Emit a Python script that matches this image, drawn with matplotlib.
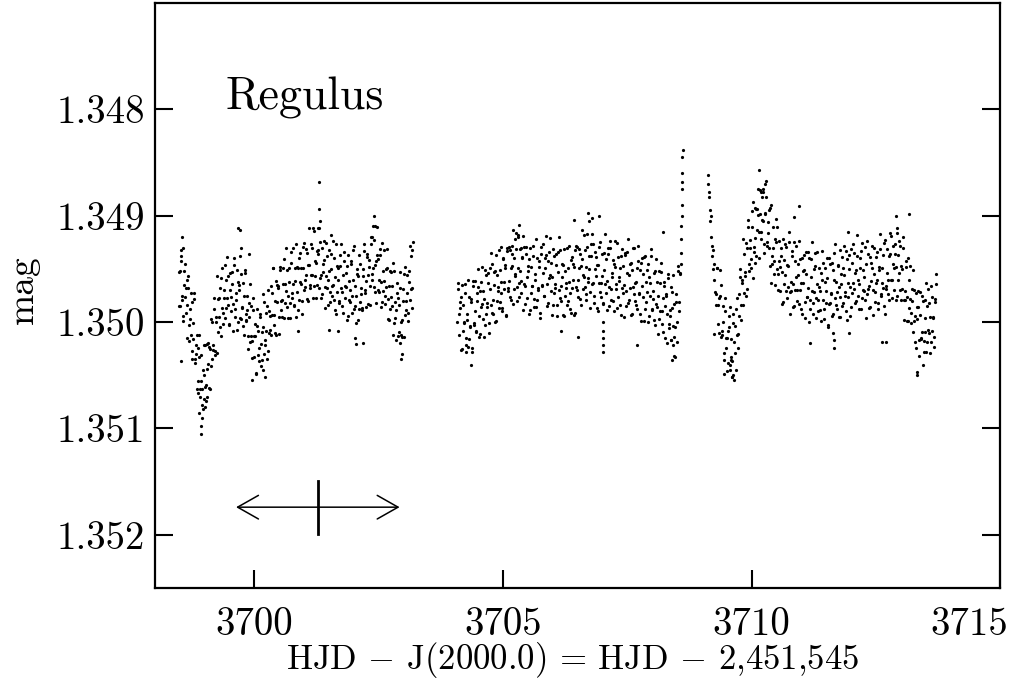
#!/usr/bin/env python3
"""Regulus light curve: differential magnitude against heliocentric Julian date."""

import numpy as np
import matplotlib
matplotlib.use("Agg")
import matplotlib.pyplot as plt
from matplotlib.patches import FancyArrowPatch, ArrowStyle
from matplotlib.ticker import FormatStrFormatter
import matplotlib.transforms as mtransforms

plt.rcParams["font.family"] = "cmr10"
plt.rcParams["mathtext.fontset"] = "cm"
plt.rcParams["axes.formatter.use_mathtext"] = True

# (HJD - 2451545, mag), first observing block
seg1 = [
    (3698.48, 1.34953), (3698.50, 1.34985), (3698.52, 1.34943), (3698.54, 1.34975), (3698.56, 1.34994),
    (3698.58, 1.34965), (3698.60, 1.34945), (3698.62, 1.34991), (3698.64, 1.34984), (3698.66, 1.34968),
    (3698.68, 1.35018), (3698.70, 1.34988), (3698.72, 1.35012), (3698.74, 1.34981), (3698.76, 1.35016),
    (3698.78, 1.34978), (3698.80, 1.35038), (3698.82, 1.35022), (3698.84, 1.35063), (3698.86, 1.35024),
    (3698.88, 1.35033), (3698.90, 1.35070), (3698.92, 1.35031), (3698.94, 1.35063), (3698.96, 1.35082),
    (3698.98, 1.35050), (3699.00, 1.35022), (3699.02, 1.35059), (3699.04, 1.35044), (3699.06, 1.35020),
    (3699.08, 1.35062), (3699.10, 1.35025), (3699.12, 1.35041), (3699.14, 1.35000), (3699.16, 1.35026),
    (3699.18, 1.34977), (3699.20, 1.35027), (3699.22, 1.35000), (3699.24, 1.35029), (3699.26, 1.34978),
    (3699.28, 1.34977), (3699.30, 1.35005), (3699.32, 1.34959), (3699.34, 1.34987), (3699.36, 1.35002),
    (3699.38, 1.34970), (3699.40, 1.34946), (3699.42, 1.34987), (3699.44, 1.34977), (3699.46, 1.34957),
    (3699.48, 1.35003), (3699.50, 1.34970), (3699.52, 1.34990), (3699.54, 1.34953), (3699.56, 1.34983),
    (3699.58, 1.34940), (3699.60, 1.34995), (3699.62, 1.34973), (3699.64, 1.35007), (3699.66, 1.34962),
    (3699.68, 1.34965), (3699.70, 1.34996), (3699.72, 1.34955), (3699.74, 1.34986), (3699.76, 1.35004),
    (3699.78, 1.34975), (3699.80, 1.34954), (3699.82, 1.34999), (3699.84, 1.34992), (3699.86, 1.34975),
    (3699.88, 1.35025), (3699.90, 1.34995), (3699.92, 1.35019), (3699.94, 1.34985), (3699.96, 1.35018),
    (3699.98, 1.34977), (3700.00, 1.35033), (3700.02, 1.35013), (3700.04, 1.35049), (3700.06, 1.35004),
    (3700.08, 1.35008), (3700.10, 1.35037), (3700.12, 1.34992), (3700.14, 1.35021), (3700.16, 1.35036),
    (3700.18, 1.35005), (3700.20, 1.34981), (3700.22, 1.35022), (3700.24, 1.35008), (3700.26, 1.34985),
    (3700.28, 1.35027), (3700.30, 1.34990), (3700.32, 1.35007), (3700.34, 1.34966), (3700.36, 1.34993),
    (3700.38, 1.34949), (3700.40, 1.35003), (3700.42, 1.34980), (3700.44, 1.35012), (3700.46, 1.34965),
    (3700.48, 1.34966), (3700.50, 1.34995), (3700.52, 1.34951), (3700.54, 1.34980), (3700.56, 1.34995),
    (3700.58, 1.34964), (3700.60, 1.34941), (3700.62, 1.34982), (3700.64, 1.34971), (3700.66, 1.34951),
    (3700.68, 1.34996), (3700.70, 1.34962), (3700.72, 1.34982), (3700.74, 1.34944), (3700.76, 1.34973),
    (3700.78, 1.34930), (3700.80, 1.34984), (3700.82, 1.34961), (3700.84, 1.34995), (3700.86, 1.34948),
    (3700.88, 1.34949), (3700.90, 1.34979), (3700.92, 1.34935), (3700.94, 1.34964), (3700.96, 1.34980),
    (3700.98, 1.34949), (3701.00, 1.34926), (3701.02, 1.34967), (3701.04, 1.34956), (3701.06, 1.34935),
    (3701.08, 1.34980), (3701.10, 1.34946), (3701.12, 1.34965), (3701.14, 1.34927), (3701.16, 1.34956),
    (3701.18, 1.34912), (3701.20, 1.34966), (3701.22, 1.34943), (3701.24, 1.34977), (3701.26, 1.34933),
    (3701.28, 1.34936), (3701.30, 1.34968), (3701.32, 1.34925), (3701.34, 1.34956), (3701.36, 1.34974),
    (3701.38, 1.34945), (3701.40, 1.34924), (3701.42, 1.34967), (3701.44, 1.34957), (3701.46, 1.34938),
    (3701.48, 1.34984), (3701.50, 1.34952), (3701.52, 1.34972), (3701.54, 1.34936), (3701.56, 1.34966),
    (3701.58, 1.34924), (3701.60, 1.34979), (3701.62, 1.34958), (3701.64, 1.34992), (3701.66, 1.34947),
    (3701.68, 1.34949), (3701.70, 1.34980), (3701.72, 1.34937), (3701.74, 1.34968), (3701.76, 1.34985),
    (3701.78, 1.34956), (3701.80, 1.34934), (3701.82, 1.34977), (3701.84, 1.34967), (3701.86, 1.34947),
    (3701.88, 1.34994), (3701.90, 1.34961), (3701.92, 1.34981), (3701.94, 1.34945), (3701.96, 1.34975),
    (3701.98, 1.34932), (3702.00, 1.34988), (3702.02, 1.34966), (3702.04, 1.35001), (3702.06, 1.34955),
    (3702.08, 1.34957), (3702.10, 1.34988), (3702.12, 1.34945), (3702.14, 1.34974), (3702.16, 1.34989),
    (3702.18, 1.34957), (3702.20, 1.34933), (3702.22, 1.34973), (3702.24, 1.34961), (3702.26, 1.34939),
    (3702.28, 1.34983), (3702.30, 1.34948), (3702.32, 1.34966), (3702.34, 1.34927), (3702.36, 1.34955),
    (3702.38, 1.34910), (3702.40, 1.34967), (3702.42, 1.34946), (3702.44, 1.34982), (3702.46, 1.34937),
    (3702.48, 1.34941), (3702.50, 1.34972), (3702.52, 1.34931), (3702.54, 1.34962), (3702.56, 1.34981),
    (3702.58, 1.34952), (3702.60, 1.34932), (3702.62, 1.34975), (3702.64, 1.34967), (3702.66, 1.34949),
    (3702.68, 1.34997), (3702.70, 1.34966), (3702.72, 1.34988), (3702.74, 1.34953), (3702.76, 1.34985),
    (3702.78, 1.34944), (3702.80, 1.35001), (3702.82, 1.34981), (3702.84, 1.35017), (3702.86, 1.34973),
    (3702.88, 1.34977), (3702.90, 1.35009), (3702.92, 1.34968), (3702.94, 1.35000), (3702.96, 1.35014),
    (3702.98, 1.34980), (3703.00, 1.34955), (3703.02, 1.34993), (3703.04, 1.34980), (3703.06, 1.34956),
    (3703.08, 1.34999), (3703.10, 1.34962), (3703.12, 1.34979), (3703.14, 1.34938), (3703.16, 1.34968),
    (3703.18, 1.34925),
    # scattered outliers in the same block
    (3698.52, 1.35037), (3698.55, 1.34920), (3698.57, 1.34930), (3698.53, 1.34938), (3698.65, 1.34960),
    (3698.75, 1.35035), (3698.92, 1.35105), (3698.93, 1.35098), (3698.88, 1.35085), (3698.95, 1.35090),
    (3699.00, 1.35080), (3698.86, 1.35055), (3698.98, 1.35072), (3699.04, 1.35070), (3699.67, 1.34912),
    (3699.71, 1.34913), (3699.73, 1.34930), (3699.90, 1.34936), (3699.96, 1.35054), (3700.22, 1.35052),
    (3700.18, 1.35045), (3701.29, 1.34868), (3701.30, 1.34894), (3701.31, 1.34905), (3701.27, 1.34912),
    (3702.40, 1.34900), (3702.43, 1.34910), (3702.37, 1.34920), (3702.05, 1.35021), (3702.02, 1.35015),
    (3702.94, 1.35035), (3702.96, 1.35030), (3702.92, 1.35020), (3703.16, 1.34932), (3700.88, 1.35008),
    (3701.49, 1.35007), (3701.69, 1.35008), (3702.19, 1.35020),
]

# the in-between exposures of the first block
seg1_b = [
    (3698.49, 1.34985), (3698.51, 1.34952), (3698.53, 1.34932), (3698.55, 1.34979), (3698.57, 1.34999),
    (3698.59, 1.34952), (3698.61, 1.34976), (3698.63, 1.34968), (3698.65, 1.35015), (3698.67, 1.34957),
    (3698.69, 1.35003), (3698.71, 1.34997), (3698.73, 1.34973), (3698.75, 1.35027), (3698.77, 1.35001),
    (3698.79, 1.34973), (3698.81, 1.35035), (3698.83, 1.35030), (3698.85, 1.35012), (3698.87, 1.35067),
    (3698.89, 1.35012), (3698.91, 1.35063), (3698.93, 1.35055), (3698.95, 1.35078), (3698.97, 1.35045),
    (3698.99, 1.35022), (3699.01, 1.35061), (3699.03, 1.35074), (3699.05, 1.35021), (3699.07, 1.35039),
    (3699.09, 1.35023), (3699.11, 1.35063), (3699.13, 1.34997), (3699.15, 1.35035), (3699.17, 1.35022),
    (3699.19, 1.34988), (3699.21, 1.35031), (3699.23, 1.34995), (3699.25, 1.34957), (3699.27, 1.35009),
    (3699.29, 1.34995), (3699.31, 1.34968), (3699.33, 1.35013), (3699.35, 1.34949), (3699.37, 1.34991),
    (3699.39, 1.34977), (3699.41, 1.34996), (3699.43, 1.34960), (3699.45, 1.34939), (3699.47, 1.34984),
    (3699.49, 1.35002), (3699.51, 1.34954), (3699.53, 1.34976), (3699.55, 1.34964), (3699.57, 1.35008),
    (3699.59, 1.34946), (3699.61, 1.34988), (3699.63, 1.34979), (3699.65, 1.34951), (3699.67, 1.35000),
    (3699.69, 1.34970), (3699.71, 1.34938), (3699.73, 1.34997), (3699.75, 1.34987), (3699.77, 1.34963),
    (3699.79, 1.35012), (3699.81, 1.34951), (3699.83, 1.34998), (3699.85, 1.34989), (3699.87, 1.35013),
    (3699.89, 1.34982), (3699.91, 1.34964), (3699.93, 1.35013), (3699.95, 1.35034), (3699.97, 1.34989),
    (3699.99, 1.35013), (3700.01, 1.35002), (3700.03, 1.35048), (3700.05, 1.34988), (3700.07, 1.35031),
    (3700.09, 1.35024), (3700.11, 1.34995), (3700.13, 1.35041), (3700.15, 1.35009), (3700.17, 1.34974),
    (3700.19, 1.35030), (3700.21, 1.35017), (3700.23, 1.34991), (3700.25, 1.35035), (3700.27, 1.34970),
    (3700.29, 1.35010), (3700.31, 1.34994), (3700.33, 1.35012), (3700.35, 1.34973), (3700.37, 1.34949),
    (3700.39, 1.34993), (3700.41, 1.35010), (3700.43, 1.34961), (3700.45, 1.34981), (3700.47, 1.34968),
    (3700.49, 1.35011), (3700.51, 1.34948), (3700.53, 1.34989), (3700.55, 1.34979), (3700.57, 1.34949),
    (3700.59, 1.34996), (3700.61, 1.34964), (3700.63, 1.34930), (3700.65, 1.34986), (3700.67, 1.34975),
    (3700.69, 1.34949), (3700.71, 1.34996), (3700.73, 1.34934), (3700.75, 1.34977), (3700.77, 1.34964),
    (3700.79, 1.34985), (3700.81, 1.34949), (3700.83, 1.34927), (3700.85, 1.34972), (3700.87, 1.34989),
    (3700.89, 1.34940), (3700.91, 1.34962), (3700.93, 1.34949), (3700.95, 1.34992), (3700.97, 1.34929),
    (3700.99, 1.34970), (3701.01, 1.34960), (3701.03, 1.34931), (3701.05, 1.34978), (3701.07, 1.34946),
    (3701.09, 1.34912), (3701.11, 1.34968), (3701.13, 1.34956), (3701.15, 1.34930), (3701.17, 1.34977),
    (3701.19, 1.34914), (3701.21, 1.34957), (3701.23, 1.34944), (3701.25, 1.34965), (3701.27, 1.34932),
    (3701.29, 1.34912), (3701.31, 1.34959), (3701.33, 1.34977), (3701.35, 1.34930), (3701.37, 1.34953),
    (3701.39, 1.34942), (3701.41, 1.34987), (3701.43, 1.34926), (3701.45, 1.34968), (3701.47, 1.34960),
    (3701.49, 1.34932), (3701.51, 1.34981), (3701.53, 1.34950), (3701.55, 1.34918), (3701.57, 1.34975),
    (3701.59, 1.34965), (3701.61, 1.34940), (3701.63, 1.34989), (3701.65, 1.34927), (3701.67, 1.34972),
    (3701.69, 1.34960), (3701.71, 1.34982), (3701.73, 1.34947), (3701.75, 1.34927), (3701.77, 1.34972),
    (3701.79, 1.34991), (3701.81, 1.34943), (3701.83, 1.34966), (3701.85, 1.34954), (3701.87, 1.34998),
    (3701.89, 1.34937), (3701.91, 1.34979), (3701.93, 1.34970), (3701.95, 1.34943), (3701.97, 1.34991),
    (3701.99, 1.34960), (3702.01, 1.34928), (3702.03, 1.34985), (3702.05, 1.34975), (3702.07, 1.34950),
    (3702.09, 1.34998), (3702.11, 1.34937), (3702.13, 1.34981), (3702.15, 1.34968), (3702.17, 1.34987),
    (3702.19, 1.34950), (3702.21, 1.34927), (3702.23, 1.34970), (3702.25, 1.34986), (3702.27, 1.34936),
    (3702.29, 1.34956), (3702.31, 1.34942), (3702.33, 1.34984), (3702.35, 1.34920), (3702.37, 1.34960),
    (3702.39, 1.34949), (3702.41, 1.34923), (3702.43, 1.34972), (3702.45, 1.34943), (3702.47, 1.34911),
    (3702.49, 1.34970), (3702.51, 1.34960), (3702.53, 1.34937), (3702.55, 1.34986), (3702.57, 1.34926),
    (3702.59, 1.34971), (3702.61, 1.34961), (3702.63, 1.34983), (3702.65, 1.34950), (3702.67, 1.34931),
    (3702.69, 1.34978), (3702.71, 1.34998), (3702.73, 1.34952), (3702.75, 1.34976), (3702.77, 1.34966),
    (3702.79, 1.35012), (3702.81, 1.34952), (3702.83, 1.34996), (3702.85, 1.34989), (3702.87, 1.34963),
    (3702.89, 1.35013), (3702.91, 1.34984), (3702.93, 1.34953), (3702.95, 1.35012), (3702.97, 1.34998),
    (3702.99, 1.34969), (3703.01, 1.35014), (3703.03, 1.34948), (3703.05, 1.34989), (3703.07, 1.34973),
    (3703.09, 1.34991), (3703.11, 1.34952), (3703.13, 1.34928), (3703.15, 1.34969), (3703.17, 1.34987),
]

# second observing block, ending in the brief brightening near 3708.6
seg2 = [
    (3704.08, 1.35000), (3704.10, 1.34963), (3704.12, 1.35012), (3704.14, 1.34987), (3704.16, 1.34976),
    (3704.18, 1.35025), (3704.20, 1.34984), (3704.22, 1.35001), (3704.24, 1.34964), (3704.26, 1.35015),
    (3704.28, 1.34998), (3704.30, 1.35023), (3704.32, 1.34976), (3704.34, 1.35005), (3704.36, 1.34981),
    (3704.38, 1.35028), (3704.40, 1.34966), (3704.42, 1.35001), (3704.44, 1.34961), (3704.46, 1.35008),
    (3704.48, 1.34980), (3704.50, 1.34967), (3704.52, 1.35014), (3704.54, 1.34971), (3704.56, 1.34986),
    (3704.58, 1.34948), (3704.60, 1.34997), (3704.62, 1.34978), (3704.64, 1.35003), (3704.66, 1.34956),
    (3704.68, 1.34986), (3704.70, 1.34963), (3704.72, 1.35010), (3704.74, 1.34949), (3704.76, 1.34984),
    (3704.78, 1.34945), (3704.80, 1.34992), (3704.82, 1.34965), (3704.84, 1.34952), (3704.86, 1.34999),
    (3704.88, 1.34956), (3704.90, 1.34971), (3704.92, 1.34932), (3704.94, 1.34981), (3704.96, 1.34962),
    (3704.98, 1.34987), (3705.00, 1.34940), (3705.02, 1.34969), (3705.04, 1.34946), (3705.06, 1.34994),
    (3705.08, 1.34933), (3705.10, 1.34968), (3705.12, 1.34929), (3705.14, 1.34976), (3705.16, 1.34949),
    (3705.18, 1.34936), (3705.20, 1.34983), (3705.22, 1.34940), (3705.24, 1.34955), (3705.26, 1.34916),
    (3705.28, 1.34967), (3705.30, 1.34949), (3705.32, 1.34976), (3705.34, 1.34931), (3705.36, 1.34961),
    (3705.38, 1.34940), (3705.40, 1.34989), (3705.42, 1.34929), (3705.44, 1.34966), (3705.46, 1.34929),
    (3705.48, 1.34977), (3705.50, 1.34952), (3705.52, 1.34941), (3705.54, 1.34989), (3705.56, 1.34948),
    (3705.58, 1.34966), (3705.60, 1.34928), (3705.62, 1.34978), (3705.64, 1.34960), (3705.66, 1.34986),
    (3705.68, 1.34940), (3705.70, 1.34970), (3705.72, 1.34948), (3705.74, 1.34996), (3705.76, 1.34936),
    (3705.78, 1.34965), (3705.80, 1.34927), (3705.82, 1.34975), (3705.84, 1.34949), (3705.86, 1.34937),
    (3705.88, 1.34985), (3705.90, 1.34943), (3705.92, 1.34959), (3705.94, 1.34921), (3705.96, 1.34971),
    (3705.98, 1.34958), (3706.00, 1.34984), (3706.02, 1.34938), (3706.04, 1.34968), (3706.06, 1.34946),
    (3706.08, 1.34994), (3706.10, 1.34934), (3706.12, 1.34970), (3706.14, 1.34932), (3706.16, 1.34980),
    (3706.18, 1.34958), (3706.20, 1.34946), (3706.22, 1.34994), (3706.24, 1.34952), (3706.26, 1.34968),
    (3706.28, 1.34930), (3706.30, 1.34980), (3706.32, 1.34962), (3706.34, 1.34988), (3706.36, 1.34942),
    (3706.38, 1.34968), (3706.40, 1.34945), (3706.42, 1.34993), (3706.44, 1.34932), (3706.46, 1.34967),
    (3706.48, 1.34929), (3706.50, 1.34976), (3706.52, 1.34949), (3706.54, 1.34936), (3706.56, 1.34984),
    (3706.58, 1.34941), (3706.60, 1.34956), (3706.62, 1.34918), (3706.64, 1.34967), (3706.66, 1.34948),
    (3706.68, 1.34974), (3706.70, 1.34929), (3706.72, 1.34959), (3706.74, 1.34938), (3706.76, 1.34987),
    (3706.78, 1.34927), (3706.80, 1.34964), (3706.82, 1.34927), (3706.84, 1.34975), (3706.86, 1.34950),
    (3706.88, 1.34939), (3706.90, 1.34987), (3706.92, 1.34946), (3706.94, 1.34963), (3706.96, 1.34925),
    (3706.98, 1.34976), (3707.00, 1.34957), (3707.02, 1.34982), (3707.04, 1.34935), (3707.06, 1.34964),
    (3707.08, 1.34941), (3707.10, 1.34989), (3707.12, 1.34930), (3707.14, 1.34967), (3707.16, 1.34930),
    (3707.18, 1.34979), (3707.20, 1.34954), (3707.22, 1.34942), (3707.24, 1.34990), (3707.26, 1.34948),
    (3707.28, 1.34964), (3707.30, 1.34926), (3707.32, 1.34976), (3707.34, 1.34958), (3707.36, 1.34984),
    (3707.38, 1.34938), (3707.40, 1.34968), (3707.42, 1.34947), (3707.44, 1.34995), (3707.46, 1.34935),
    (3707.48, 1.34971), (3707.50, 1.34934), (3707.52, 1.34982), (3707.54, 1.34956), (3707.56, 1.34945),
    (3707.58, 1.34993), (3707.60, 1.34951), (3707.62, 1.34967), (3707.64, 1.34930), (3707.66, 1.34980),
    (3707.68, 1.34962), (3707.70, 1.34988), (3707.72, 1.34943), (3707.74, 1.34973), (3707.76, 1.34951),
    (3707.78, 1.34999), (3707.80, 1.34940), (3707.82, 1.34976), (3707.84, 1.34939), (3707.86, 1.34988),
    (3707.88, 1.34962), (3707.90, 1.34951), (3707.92, 1.35000), (3707.94, 1.34958), (3707.96, 1.34975),
    (3707.98, 1.34938), (3708.00, 1.34988), (3708.02, 1.34971), (3708.04, 1.34998), (3708.06, 1.34952),
    (3708.08, 1.34983), (3708.10, 1.34962), (3708.12, 1.35011), (3708.14, 1.34952), (3708.16, 1.34990),
    (3708.18, 1.34953), (3708.20, 1.35002), (3708.22, 1.34977), (3708.24, 1.34966), (3708.26, 1.35015),
    (3708.28, 1.34975), (3708.30, 1.34992), (3708.32, 1.34955), (3708.34, 1.35006), (3708.36, 1.34989),
    (3708.38, 1.35017), (3708.40, 1.34972), (3708.42, 1.35004), (3708.44, 1.34983), (3708.46, 1.35033),
    (3708.48, 1.34974), (3708.50, 1.35000), (3708.52, 1.34952), (3708.54, 1.34990), (3708.56, 1.34954),
    # outliers
    (3704.35, 1.35040), (3704.25, 1.35028), (3705.32, 1.34909), (3705.30, 1.34920), (3705.25, 1.34922),
    (3706.71, 1.34897), (3706.73, 1.34905), (3706.80, 1.34902), (3706.93, 1.34900), (3706.43, 1.34904),
    (3707.01, 1.35000), (3707.01, 1.35008), (3707.01, 1.35015), (3707.02, 1.35022), (3707.02, 1.35028),
    (3706.51, 1.35014), (3706.17, 1.35008), (3707.70, 1.35022), (3708.42, 1.35022), (3708.45, 1.35032),
    (3708.40, 1.35036), (3708.22, 1.34915), (3705.18, 1.34928), (3705.36, 1.34930),
    # the spike
    (3708.57, 1.34955), (3708.58, 1.34945), (3708.58, 1.34935), (3708.59, 1.34922), (3708.59, 1.34910),
    (3708.60, 1.34900), (3708.60, 1.34890), (3708.60, 1.34875), (3708.61, 1.34868), (3708.61, 1.34860),
    (3708.61, 1.34845), (3708.62, 1.34838),
]

seg2_b = [
    (3704.09, 1.34969), (3704.11, 1.34992), (3704.13, 1.34981), (3704.15, 1.35026), (3704.17, 1.34965),
    (3704.19, 1.35008), (3704.21, 1.35000), (3704.23, 1.34973), (3704.25, 1.35022), (3704.27, 1.34992),
    (3704.29, 1.34960), (3704.31, 1.35016), (3704.33, 1.35004), (3704.35, 1.34978), (3704.37, 1.35024),
    (3704.39, 1.34961), (3704.41, 1.35003), (3704.43, 1.34990), (3704.45, 1.35009), (3704.47, 1.34973),
    (3704.49, 1.34950), (3704.51, 1.34994), (3704.53, 1.35011), (3704.55, 1.34962), (3704.57, 1.34983),
    (3704.59, 1.34971), (3704.61, 1.35014), (3704.63, 1.34951), (3704.65, 1.34992), (3704.67, 1.34982),
    (3704.69, 1.34954), (3704.71, 1.35001), (3704.73, 1.34969), (3704.75, 1.34935), (3704.77, 1.34991),
    (3704.79, 1.34979), (3704.81, 1.34953), (3704.83, 1.35000), (3704.85, 1.34937), (3704.87, 1.34980),
    (3704.89, 1.34967), (3704.91, 1.34987), (3704.93, 1.34951), (3704.95, 1.34929), (3704.97, 1.34973),
    (3704.99, 1.34990), (3705.01, 1.34941), (3705.03, 1.34962), (3705.05, 1.34949), (3705.07, 1.34993),
    (3705.09, 1.34930), (3705.11, 1.34971), (3705.13, 1.34961), (3705.15, 1.34932), (3705.17, 1.34979),
    (3705.19, 1.34947), (3705.21, 1.34913), (3705.23, 1.34969), (3705.25, 1.34957), (3705.27, 1.34931),
    (3705.29, 1.34980), (3705.31, 1.34918), (3705.33, 1.34963), (3705.35, 1.34952), (3705.37, 1.34973),
    (3705.39, 1.34939), (3705.41, 1.34919), (3705.43, 1.34964), (3705.45, 1.34983), (3705.47, 1.34936),
    (3705.49, 1.34958), (3705.51, 1.34947), (3705.53, 1.34992), (3705.55, 1.34930), (3705.57, 1.34973),
    (3705.59, 1.34966), (3705.61, 1.34938), (3705.63, 1.34986), (3705.65, 1.34955), (3705.67, 1.34922),
    (3705.69, 1.34979), (3705.71, 1.34968), (3705.73, 1.34943), (3705.75, 1.34991), (3705.77, 1.34929),
    (3705.79, 1.34966), (3705.81, 1.34954), (3705.83, 1.34975), (3705.85, 1.34940), (3705.87, 1.34919),
    (3705.89, 1.34964), (3705.91, 1.34982), (3705.93, 1.34934), (3705.95, 1.34956), (3705.97, 1.34944),
    (3705.99, 1.34993), (3706.01, 1.34931), (3706.03, 1.34973), (3706.05, 1.34964), (3706.07, 1.34936),
    (3706.09, 1.34984), (3706.11, 1.34953), (3706.13, 1.34920), (3706.15, 1.34977), (3706.17, 1.34966),
    (3706.19, 1.34945), (3706.21, 1.34993), (3706.23, 1.34931), (3706.25, 1.34975), (3706.27, 1.34963),
    (3706.29, 1.34984), (3706.31, 1.34949), (3706.33, 1.34928), (3706.35, 1.34973), (3706.37, 1.34991),
    (3706.39, 1.34939), (3706.41, 1.34960), (3706.43, 1.34948), (3706.45, 1.34991), (3706.47, 1.34928),
    (3706.49, 1.34970), (3706.51, 1.34960), (3706.53, 1.34931), (3706.55, 1.34978), (3706.57, 1.34947),
    (3706.59, 1.34913), (3706.61, 1.34969), (3706.63, 1.34958), (3706.65, 1.34932), (3706.67, 1.34979),
    (3706.69, 1.34917), (3706.71, 1.34962), (3706.73, 1.34950), (3706.75, 1.34972), (3706.77, 1.34938),
    (3706.79, 1.34917), (3706.81, 1.34963), (3706.83, 1.34982), (3706.85, 1.34934), (3706.87, 1.34957),
    (3706.89, 1.34946), (3706.91, 1.34990), (3706.93, 1.34929), (3706.95, 1.34972), (3706.97, 1.34963),
    (3706.99, 1.34936), (3707.01, 1.34983), (3707.03, 1.34951), (3707.05, 1.34917), (3707.07, 1.34973),
    (3707.09, 1.34961), (3707.11, 1.34936), (3707.13, 1.34985), (3707.15, 1.34924), (3707.17, 1.34969),
    (3707.19, 1.34958), (3707.21, 1.34980), (3707.23, 1.34945), (3707.25, 1.34924), (3707.27, 1.34969),
    (3707.29, 1.34987), (3707.31, 1.34939), (3707.33, 1.34961), (3707.35, 1.34949), (3707.37, 1.34993),
    (3707.39, 1.34931), (3707.41, 1.34973), (3707.43, 1.34965), (3707.45, 1.34937), (3707.47, 1.34985),
    (3707.49, 1.34954), (3707.51, 1.34922), (3707.53, 1.34979), (3707.55, 1.34968), (3707.57, 1.34944),
    (3707.59, 1.34992), (3707.61, 1.34930), (3707.63, 1.34974), (3707.65, 1.34963), (3707.67, 1.34984),
    (3707.69, 1.34949), (3707.71, 1.34928), (3707.73, 1.34974), (3707.75, 1.34992), (3707.77, 1.34944),
    (3707.79, 1.34966), (3707.81, 1.34955), (3707.83, 1.34999), (3707.85, 1.34938), (3707.87, 1.34981),
    (3707.89, 1.34972), (3707.91, 1.34945), (3707.93, 1.34994), (3707.95, 1.34963), (3707.97, 1.34931),
    (3707.99, 1.34989), (3708.01, 1.34978), (3708.03, 1.34954), (3708.05, 1.35003), (3708.07, 1.34941),
    (3708.09, 1.34986), (3708.11, 1.34975), (3708.13, 1.34997), (3708.15, 1.34963), (3708.17, 1.34944),
    (3708.19, 1.34990), (3708.21, 1.35009), (3708.23, 1.34962), (3708.25, 1.34985), (3708.27, 1.34974),
    (3708.29, 1.35020), (3708.31, 1.34959), (3708.33, 1.35002), (3708.35, 1.34994), (3708.37, 1.34967),
    (3708.39, 1.35017), (3708.41, 1.34987), (3708.43, 1.34956), (3708.45, 1.35014), (3708.47, 1.35005),
    (3708.49, 1.34981), (3708.51, 1.35019), (3708.53, 1.34947), (3708.55, 1.34981),
]

# third observing block
seg3 = [
    (3709.12, 1.34870), (3709.13, 1.34862), (3709.14, 1.34882), (3709.15, 1.34878), (3709.16, 1.34895),
    (3709.17, 1.34905), (3709.18, 1.34900), (3709.19, 1.34920), (3709.20, 1.34928), (3709.21, 1.34938),
    (3709.22, 1.34932), (3709.23, 1.34950), (3709.24, 1.34960), (3709.25, 1.34945), (3709.26, 1.34972),
    (3709.28, 1.34984), (3709.30, 1.34949), (3709.32, 1.34984), (3709.34, 1.35010), (3709.36, 1.34975),
    (3709.38, 1.34965), (3709.40, 1.35012), (3709.42, 1.35000), (3709.44, 1.35029), (3709.46, 1.34990),
    (3709.48, 1.35015), (3709.50, 1.35046), (3709.52, 1.35008), (3709.54, 1.34994), (3709.56, 1.35040),
    (3709.58, 1.35016), (3709.60, 1.35037), (3709.62, 1.34992), (3709.64, 1.35054), (3709.66, 1.35029),
    (3709.68, 1.34988), (3709.70, 1.35012), (3709.72, 1.35024), (3709.74, 1.34974), (3709.76, 1.34950),
    (3709.78, 1.34984), (3709.80, 1.34963), (3709.82, 1.34984), (3709.84, 1.34936), (3709.86, 1.34953),
    (3709.88, 1.34975), (3709.90, 1.34930), (3709.92, 1.34911), (3709.94, 1.34952), (3709.96, 1.34923),
    (3709.98, 1.34941), (3710.00, 1.34896), (3710.02, 1.34959), (3710.04, 1.34934), (3710.06, 1.34893),
    (3710.08, 1.34921), (3710.10, 1.34938), (3710.12, 1.34894), (3710.14, 1.34875), (3710.16, 1.34915),
    (3710.18, 1.34898), (3710.20, 1.34922), (3710.22, 1.34882), (3710.24, 1.34905), (3710.26, 1.34935),
    (3710.28, 1.34897), (3710.30, 1.34882), (3710.32, 1.34928), (3710.34, 1.34906), (3710.36, 1.34930),
    (3710.38, 1.34893), (3710.40, 1.34963), (3710.42, 1.34945), (3710.44, 1.34911), (3710.46, 1.34943),
    (3710.48, 1.34965), (3710.50, 1.34925), (3710.52, 1.34911), (3710.54, 1.34955), (3710.56, 1.34943),
    (3710.58, 1.34971), (3710.60, 1.34930), (3710.62, 1.34953), (3710.64, 1.34981), (3710.66, 1.34942),
    (3710.68, 1.34927), (3710.70, 1.34971), (3710.72, 1.34946), (3710.74, 1.34967), (3710.76, 1.34925),
    (3710.78, 1.34992), (3710.80, 1.34971), (3710.82, 1.34933), (3710.84, 1.34964), (3710.86, 1.34985),
    (3710.88, 1.34943), (3710.90, 1.34928), (3710.92, 1.34970), (3710.94, 1.34956), (3710.96, 1.34983),
    (3710.98, 1.34941), (3711.00, 1.34963), (3711.02, 1.34992), (3711.04, 1.34952), (3711.06, 1.34937),
    (3711.08, 1.34981), (3711.10, 1.34955), (3711.12, 1.34976), (3711.14, 1.34934), (3711.16, 1.35000),
    (3711.18, 1.34979), (3711.20, 1.34941), (3711.22, 1.34971), (3711.24, 1.34992), (3711.26, 1.34950),
    (3711.28, 1.34935), (3711.30, 1.34977), (3711.32, 1.34964), (3711.34, 1.34990), (3711.36, 1.34949),
    (3711.38, 1.34971), (3711.40, 1.34999), (3711.42, 1.34960), (3711.44, 1.34944), (3711.46, 1.34988),
    (3711.48, 1.34962), (3711.50, 1.34982), (3711.52, 1.34940), (3711.54, 1.35005), (3711.56, 1.34983),
    (3711.58, 1.34945), (3711.60, 1.34974), (3711.62, 1.34994), (3711.64, 1.34951), (3711.66, 1.34935),
    (3711.68, 1.34977), (3711.70, 1.34962), (3711.72, 1.34988), (3711.74, 1.34946), (3711.76, 1.34967),
    (3711.78, 1.34995), (3711.80, 1.34955), (3711.82, 1.34939), (3711.84, 1.34982), (3711.86, 1.34956),
    (3711.88, 1.34975), (3711.90, 1.34933), (3711.92, 1.34998), (3711.94, 1.34976), (3711.96, 1.34937),
    (3711.98, 1.34967), (3712.00, 1.34986), (3712.02, 1.34944), (3712.04, 1.34927), (3712.06, 1.34969),
    (3712.08, 1.34954), (3712.10, 1.34980), (3712.12, 1.34938), (3712.14, 1.34960), (3712.16, 1.34988),
    (3712.18, 1.34949), (3712.20, 1.34933), (3712.22, 1.34977), (3712.24, 1.34951), (3712.26, 1.34971),
    (3712.28, 1.34929), (3712.30, 1.34996), (3712.32, 1.34974), (3712.34, 1.34936), (3712.36, 1.34966),
    (3712.38, 1.34986), (3712.40, 1.34944), (3712.42, 1.34928), (3712.44, 1.34970), (3712.46, 1.34955),
    (3712.48, 1.34981), (3712.50, 1.34939), (3712.52, 1.34960), (3712.54, 1.34988), (3712.56, 1.34948),
    (3712.58, 1.34931), (3712.60, 1.34975), (3712.62, 1.34949), (3712.64, 1.34968), (3712.66, 1.34926),
    (3712.68, 1.34992), (3712.70, 1.34969), (3712.72, 1.34931), (3712.74, 1.34960), (3712.76, 1.34979),
    (3712.78, 1.34936), (3712.80, 1.34919), (3712.82, 1.34960), (3712.84, 1.34945), (3712.86, 1.34970),
    (3712.88, 1.34927), (3712.90, 1.34948), (3712.92, 1.34975), (3712.94, 1.34937), (3712.96, 1.34924),
    (3712.98, 1.34970), (3713.00, 1.34947), (3713.02, 1.34969), (3713.04, 1.34930), (3713.06, 1.34998),
    (3713.08, 1.34979), (3713.10, 1.34943), (3713.12, 1.34976), (3713.14, 1.34999), (3713.16, 1.34960),
    (3713.18, 1.34947), (3713.20, 1.34991), (3713.22, 1.34980), (3713.24, 1.35009), (3713.26, 1.34970),
    (3713.28, 1.34994), (3713.30, 1.35024), (3713.32, 1.34986), (3713.34, 1.34971), (3713.36, 1.35017),
    (3713.38, 1.34993), (3713.40, 1.35015), (3713.42, 1.34975), (3713.44, 1.35040), (3713.46, 1.35018),
    (3713.48, 1.34979), (3713.50, 1.35009), (3713.52, 1.35028), (3713.54, 1.34985), (3713.56, 1.34969),
    (3713.58, 1.35010), (3713.60, 1.34995), (3713.62, 1.35019), (3713.64, 1.34976), (3713.66, 1.34996),
    (3713.68, 1.35023), (3713.70, 1.34981), (3713.72, 1.34964),
    # outliers
    (3709.56, 1.35045), (3709.60, 1.35052), (3709.62, 1.35050), (3709.58, 1.35036), (3709.45, 1.35049),
    (3709.25, 1.35011), (3710.16, 1.34857), (3710.20, 1.34878), (3710.24, 1.34875), (3710.28, 1.34870),
    (3710.96, 1.34891), (3710.86, 1.34901), (3711.17, 1.35020), (3711.65, 1.35024), (3711.65, 1.35017),
    (3711.64, 1.35010), (3711.97, 1.35010), (3712.62, 1.35019), (3712.70, 1.35019), (3712.90, 1.34900),
    (3713.16, 1.34898), (3712.92, 1.34912), (3713.32, 1.35047), (3713.33, 1.35050), (3711.95, 1.34915),
]

seg3_b = [
    (3709.29, 1.34974), (3709.31, 1.34949), (3709.33, 1.35002), (3709.35, 1.34977), (3709.37, 1.34951),
    (3709.39, 1.35014), (3709.41, 1.35008), (3709.43, 1.34985), (3709.45, 1.35036), (3709.47, 1.34977),
    (3709.49, 1.35024), (3709.51, 1.35015), (3709.53, 1.35038), (3709.55, 1.35005), (3709.57, 1.34986),
    (3709.59, 1.35033), (3709.61, 1.35052), (3709.63, 1.35001), (3709.65, 1.35019), (3709.67, 1.35004),
    (3709.69, 1.35045), (3709.71, 1.34977), (3709.73, 1.35011), (3709.75, 1.34994), (3709.77, 1.34958),
    (3709.79, 1.34998), (3709.81, 1.34960), (3709.83, 1.34922), (3709.85, 1.34973), (3709.87, 1.34957),
    (3709.89, 1.34926), (3709.91, 1.34969), (3709.93, 1.34904), (3709.95, 1.34945), (3709.97, 1.34930),
    (3709.99, 1.34949), (3710.01, 1.34911), (3710.03, 1.34887), (3710.05, 1.34929), (3710.07, 1.34944),
    (3710.09, 1.34894), (3710.11, 1.34913), (3710.13, 1.34899), (3710.15, 1.34940), (3710.17, 1.34876),
    (3710.19, 1.34915), (3710.21, 1.34904), (3710.23, 1.34878), (3710.25, 1.34927), (3710.27, 1.34898),
    (3710.29, 1.34867), (3710.31, 1.34925), (3710.33, 1.34916), (3710.35, 1.34895), (3710.37, 1.34947),
    (3710.39, 1.34890), (3710.41, 1.34938), (3710.43, 1.34930), (3710.45, 1.34955), (3710.47, 1.34922),
    (3710.49, 1.34903), (3710.51, 1.34950), (3710.53, 1.34970), (3710.55, 1.34924), (3710.57, 1.34948),
    (3710.59, 1.34938), (3710.61, 1.34983), (3710.63, 1.34922), (3710.65, 1.34964), (3710.67, 1.34956),
    (3710.69, 1.34929), (3710.71, 1.34977), (3710.73, 1.34947), (3710.75, 1.34915), (3710.77, 1.34972),
    (3710.79, 1.34962), (3710.81, 1.34938), (3710.83, 1.34986), (3710.85, 1.34925), (3710.87, 1.34970),
    (3710.89, 1.34958), (3710.91, 1.34980), (3710.93, 1.34945), (3710.95, 1.34924), (3710.97, 1.34970),
    (3710.99, 1.34988), (3711.01, 1.34940), (3711.03, 1.34963), (3711.05, 1.34951), (3711.07, 1.34996),
    (3711.09, 1.34934), (3711.11, 1.34976), (3711.13, 1.34968), (3711.15, 1.34940), (3711.17, 1.34988),
    (3711.19, 1.34958), (3711.21, 1.34925), (3711.23, 1.34982), (3711.25, 1.34972), (3711.27, 1.34947),
    (3711.29, 1.34996), (3711.31, 1.34934), (3711.33, 1.34979), (3711.35, 1.34967), (3711.37, 1.34989),
    (3711.39, 1.34954), (3711.41, 1.34933), (3711.43, 1.34979), (3711.45, 1.34997), (3711.47, 1.34949),
    (3711.49, 1.34971), (3711.51, 1.34959), (3711.53, 1.35003), (3711.55, 1.34940), (3711.57, 1.34982),
    (3711.59, 1.34973), (3711.61, 1.34944), (3711.63, 1.34992), (3711.65, 1.34960), (3711.67, 1.34927),
    (3711.69, 1.34984), (3711.71, 1.34972), (3711.73, 1.34947), (3711.75, 1.34995), (3711.77, 1.34932),
    (3711.79, 1.34976), (3711.81, 1.34964), (3711.83, 1.34985), (3711.85, 1.34949), (3711.87, 1.34928),
    (3711.89, 1.34972), (3711.91, 1.34990), (3711.93, 1.34941), (3711.95, 1.34963), (3711.97, 1.34950),
    (3711.99, 1.34994), (3712.01, 1.34931), (3712.03, 1.34973), (3712.05, 1.34963), (3712.07, 1.34935),
    (3712.09, 1.34982), (3712.11, 1.34951), (3712.13, 1.34918), (3712.15, 1.34975), (3712.17, 1.34964),
    (3712.19, 1.34940), (3712.21, 1.34988), (3712.23, 1.34926), (3712.25, 1.34970), (3712.27, 1.34958),
    (3712.29, 1.34979), (3712.31, 1.34945), (3712.33, 1.34924), (3712.35, 1.34969), (3712.37, 1.34987),
    (3712.39, 1.34939), (3712.41, 1.34961), (3712.43, 1.34949), (3712.45, 1.34993), (3712.47, 1.34930),
    (3712.49, 1.34972), (3712.51, 1.34963), (3712.53, 1.34934), (3712.55, 1.34982), (3712.57, 1.34951),
    (3712.59, 1.34917), (3712.61, 1.34974), (3712.63, 1.34963), (3712.65, 1.34937), (3712.67, 1.34985),
    (3712.69, 1.34923), (3712.71, 1.34966), (3712.73, 1.34954), (3712.75, 1.34974), (3712.77, 1.34938),
    (3712.79, 1.34916), (3712.81, 1.34960), (3712.83, 1.34977), (3712.85, 1.34928), (3712.87, 1.34949),
    (3712.89, 1.34936), (3712.91, 1.34979), (3712.93, 1.34916), (3712.95, 1.34960), (3712.97, 1.34954),
    (3712.99, 1.34928), (3713.01, 1.34979), (3713.03, 1.34950), (3713.05, 1.34920), (3713.07, 1.34979),
    (3713.09, 1.34971), (3713.11, 1.34948), (3713.13, 1.34999), (3713.15, 1.34940), (3713.17, 1.34987),
    (3713.19, 1.34978), (3713.21, 1.35001), (3713.23, 1.34969), (3713.25, 1.34951), (3713.27, 1.34999),
    (3713.29, 1.35019), (3713.31, 1.34973), (3713.33, 1.34997), (3713.35, 1.34986), (3713.37, 1.35032),
    (3713.39, 1.34972), (3713.41, 1.35016), (3713.43, 1.35009), (3713.45, 1.34980), (3713.47, 1.35028),
    (3713.49, 1.34996), (3713.51, 1.34963), (3713.53, 1.35019), (3713.55, 1.35007), (3713.57, 1.34982),
    (3713.59, 1.35029), (3713.61, 1.34966), (3713.63, 1.35008), (3713.65, 1.34995), (3713.67, 1.35014),
    (3713.69, 1.34978), (3713.71, 1.34955),
]

x_ticks = [3700, 3705, 3710, 3715]
y_ticks = [1.348, 1.349, 1.350, 1.351, 1.352]

# time-span marker drawn below the light curve
span_left, span_right, span_mag = 3699.63, 3702.92, 1.35174
span_mid, span_bar_top, span_bar_bottom = 3701.27, 1.35149, 1.35199


def main():
    fig = plt.figure(figsize=(10.12, 6.79), dpi=100)
    ax = fig.add_axes([0.1532, 0.134, 0.835, 0.8616])

    for seg in (seg1, seg1_b, seg2, seg2_b, seg3, seg3_b):
        arr = np.array(seg)
        ax.plot(arr[:, 0], arr[:, 1], "o", ms=2.3, mew=0, color="k", ls="none")

    ax.set_xlim(3698.0, 3715.0)
    ax.set_ylim(1.3525, 1.3470)
    ax.set_xticks(x_ticks)
    ax.set_yticks(y_ticks)
    ax.xaxis.set_major_formatter(FormatStrFormatter("%d"))
    ax.yaxis.set_major_formatter(FormatStrFormatter("%.3f"))
    ax.tick_params(direction="in", length=13, width=1.5, labelsize=28,
                   right=True, top=False)
    ax.tick_params(axis="x", pad=14)
    ax.tick_params(axis="y", pad=7)
    for sp in ax.spines.values():
        sp.set_linewidth(1.6)

    last = ax.get_xticklabels()[-1]
    last.set_horizontalalignment("right")
    last.set_transform(last.get_transform()
                       + mtransforms.ScaledTranslation(0.08, 0, fig.dpi_scale_trans))

    ax.set_xlabel(r"HJD $-$ J(2000.0) = HJD $-$ 2,451,545", fontsize=25)
    ax.xaxis.set_label_coords(0.494, -0.089)
    ax.set_ylabel("mag", fontsize=27)
    ax.yaxis.set_label_coords(-0.136, 0.51)

    ax.text(3699.41, 1.34789, "Regulus", fontsize=33, ha="left", va="center")

    arrow = FancyArrowPatch((span_left, span_mag), (span_right, span_mag),
                            arrowstyle=ArrowStyle("<->", head_length=15, head_width=8.5),
                            mutation_scale=1, lw=1.1, color="k",
                            shrinkA=0, shrinkB=0)
    ax.add_patch(arrow)
    ax.plot([span_mid, span_mid], [span_bar_top, span_bar_bottom], color="k", lw=2.0)

    fig.savefig("out.png", dpi=100)


if __name__ == "__main__":
    main()
